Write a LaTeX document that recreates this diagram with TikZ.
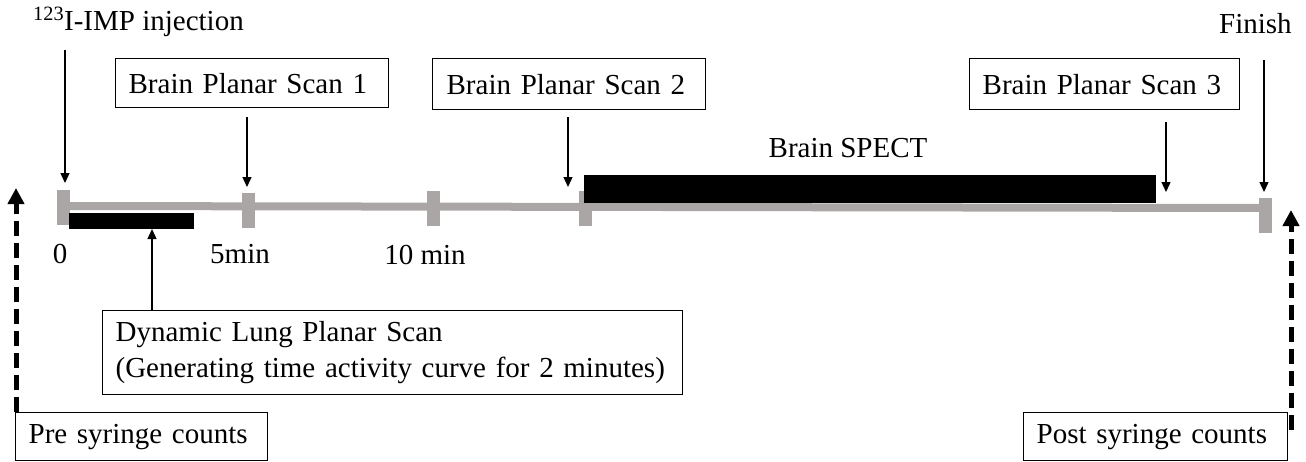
\documentclass[tikz,border=0pt]{standalone}
\usepackage{fontspec}
\setmainfont{Liberation Serif}
\usetikzlibrary{arrows.meta}
\definecolor{axisgray}{RGB}{170,166,165}
\begin{document}
\begin{tikzpicture}[x=1pt,y=-1pt,
  txt/.style={font=\fontsize{29}{36}\selectfont, inner sep=0pt},
  box/.style={draw=black, line width=1.3pt, anchor=north west, align=left,
    inner xsep=13pt, inner ysep=0pt, font=\fontsize{29}{36}\selectfont},
  tickmark/.style={fill=axisgray, minimum width=13pt, minimum height=35pt, inner sep=0pt},
  pointer/.style={line width=1.3pt, -{Triangle[length=10pt,width=9pt]}},
  countarrow/.style={line width=5pt, dash pattern=on 15pt off 7pt,
    -{Triangle[length=16pt,width=16pt]}},
]
\useasboundingbox (0,0) rectangle (1306,461);

% time axis
\coordinate (axL) at (64,206);
\coordinate (axR) at (1265,208);
\draw[axisgray, line width=8pt] (axL) -- (axR);
\node[tickmark] (t0)  at (63.5,207.5) {};
\node[tickmark] (t5)  at (248.5,210.5) {};
\node[tickmark] (t10) at (433.5,208.5) {};
\node[tickmark] (t2)  at (585.5,208) {};
\node[tickmark] (tf)  at (1265,215.5) {};

% acquisition periods
\fill (69,213) rectangle (194,229);
\fill (584,175) rectangle (1156,203);

% axis labels
\node[txt, anchor=base] (l0)  at (60,263) {0};
\node[txt, anchor=base] (l5)  at (240,263) {5min};
\node[txt, anchor=base] (l10) at (425,264) {10 min};
\node[txt, anchor=base] (spect) at (848,157) {Brain SPECT};

% event labels
\node[txt, anchor=base west] (inj) at (33,30) {\textsuperscript{123}I-IMP injection};
\node[txt, anchor=base west] (fin) at (1219,33) {Finish};

% scan boxes
\node[box, text width=247pt, minimum height=49pt] (s1) at (115,58) {Brain Planar Scan 1};
\node[box, text width=245pt, minimum height=51pt, inner xsep=14pt] (s2) at (432,58) {Brain Planar Scan 2};
\node[box, text width=244pt, minimum height=51pt] (s3) at (969,58) {Brain Planar Scan 3};
\node[box, text width=554pt, minimum height=84pt] (dyn) at (102,310)
  {Dynamic Lung Planar Scan\\(Generating time activity curve for 2 minutes)};
\node[box, text width=226pt, minimum height=48pt] (pre) at (15,412) {Pre syringe counts};
\node[box, text width=238pt, minimum height=48pt] (post) at (1023,412) {Post syringe counts};

% pointer ends
\coordinate (injTo) at (65,183);
\coordinate (s1To)  at (247,187);
\coordinate (s2To)  at (568,187);
\coordinate (s3To)  at (1166,192);
\coordinate (finTo) at (1264,192);
\coordinate (dynTo) at (152,229);
\coordinate (preTo) at (16,188);
\coordinate (postTo) at (1291,210);
\coordinate (postFrom) at (1291,430);

\draw[pointer] (injTo |- 0,50) -- (injTo);
\draw[pointer] ([yshift=-9pt]s1.south -| s1To) -- (s1To);
\draw[pointer] ([yshift=-7pt]s2.south -| s2To) -- (s2To);
\draw[pointer] ([yshift=-12pt]s3.south -| s3To) -- (s3To);
\draw[pointer] (fin.south -| finTo) ++(0,27) -- (finTo);
\draw[pointer] (dyn.north -| dynTo) -- (dynTo);

% syringe count arrows
\draw[countarrow] (pre.north west -| preTo) -- (preTo);
\draw[countarrow] (postFrom) -- (postTo);
\end{tikzpicture}
\end{document}
